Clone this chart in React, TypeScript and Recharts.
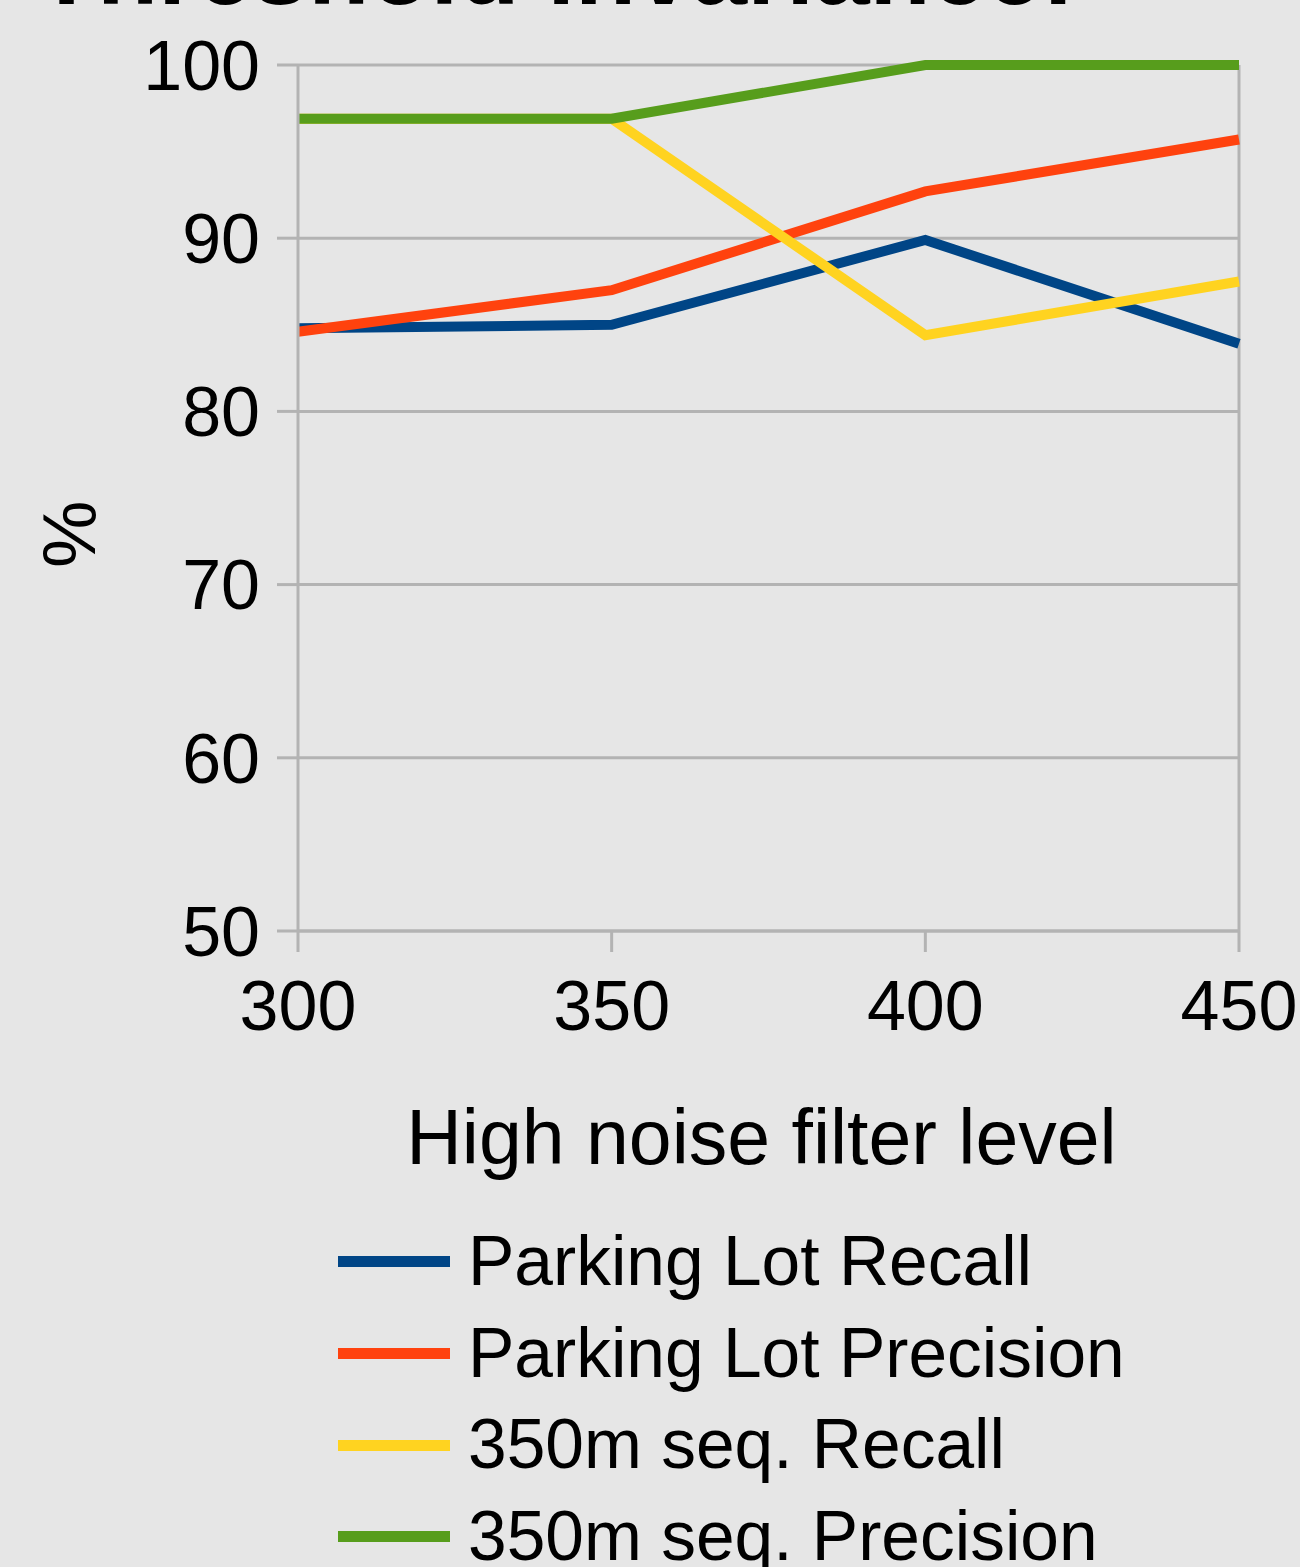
import React from 'react';
import { LineChart, Line, XAxis, YAxis, CartesianGrid, ReferenceLine, Legend } from 'recharts';

const filterLevels = [300, 350, 400, 450];
const parkingLotRecall = [84.8, 85.0, 89.9, 83.9];
const parkingLotPrecision = [84.6, 87.0, 92.7, 95.7];
const seqRecall = [96.9, 96.9, 84.4, 87.5];
const seqPrecision = [96.9, 96.9, 100, 100];
const yTicks = [50, 60, 70, 80, 90, 100];

const seriesNames = ['Parking Lot Recall', 'Parking Lot Precision', '350m seq. Recall', '350m seq. Precision'];
const seriesColors = ['#004586', '#ff420e', '#ffd320', '#579d1c'];
const seriesValues = [parkingLotRecall, parkingLotPrecision, seqRecall, seqPrecision];

const data = filterLevels.map((x, i) => {
  const row: Record<string, number> = { level: x };
  seriesNames.forEach((n, s) => {
    row[n] = seriesValues[s][i];
  });
  return row;
});

const FONT = '"Liberation Sans", Arial, sans-serif';
const GRID = '#b3b3b3';

const LegendContent = (props: any) => {
  const payload = [...(props.payload || [])].sort(
    (a: any, b: any) => seriesNames.indexOf(a.value) - seriesNames.indexOf(b.value)
  );
  return (
    <div style={{ fontFamily: FONT }}>
      {payload.map((p: any) => (
        <div key={p.value} style={{ display: 'flex', alignItems: 'center', height: 91.7 }}>
          <div style={{ width: 112, height: 11, background: p.color, marginRight: 18 }} />
          <span style={{ fontSize: 69.5, color: '#000', lineHeight: '91.7px', whiteSpace: 'nowrap' }}>{p.value}</span>
        </div>
      ))}
    </div>
  );
};

export default function App() {
  return (
    <div style={{ position: 'absolute', left: 0, top: 0, width: 1300, height: 1567, background: '#e6e6e6', overflow: 'hidden', fontFamily: FONT }}>
      <div style={{ position: 'absolute', left: 36, top: 11 - 100 * 0.905 - 2, fontSize: 100, fontWeight: 'bold', lineHeight: 1, whiteSpace: 'nowrap', color: '#000' }}>
        Threshold invariance!
      </div>
      <LineChart width={1300} height={1567} data={data} margin={{ top: 65, right: 61, bottom: 336, left: 0 }}>
        <CartesianGrid vertical={false} stroke={GRID} strokeWidth={3} />
        <XAxis
          dataKey="level"
          type="number"
          domain={[300, 450]}
          ticks={filterLevels}
          stroke={GRID}
          strokeWidth={3}
          tickSize={21}
          tickMargin={28}
          tick={{ fill: '#000', fontSize: 70, fontFamily: FONT }}
          interval={0}
          height={300}
          label={{ value: 'High noise filter level', position: 'insideTop', offset: 0, dx: -7, dy: 178, fill: '#000', fontSize: 77, fontFamily: FONT }}
        />
        <YAxis
          domain={[50, 100]}
          ticks={yTicks}
          width={298}
          stroke={GRID}
          strokeWidth={3}
          tickSize={21}
          tickMargin={17}
          tick={{ fill: '#000', fontSize: 70, fontFamily: FONT }}
          interval={0}
          label={{ value: '%', angle: -90, position: 'insideLeft', dx: 63, dy: 70, fill: '#000', fontSize: 76, fontFamily: FONT }}
        />
        <ReferenceLine x={450} stroke={GRID} strokeWidth={3} />
        {seriesNames.map((n, i) => (
          <Line
            key={n}
            dataKey={n}
            name={n}
            stroke={seriesColors[i]}
            strokeWidth={10}
            dot={false}
            activeDot={false}
            isAnimationActive={false}
            type="linear"
          />
        ))}
        <Legend
          layout="vertical"
          verticalAlign="middle"
          align="center"
          content={<LegendContent />}
          wrapperStyle={{ left: 338, top: 1216, width: 900, height: 370 }}
        />
      </LineChart>
    </div>
  );
}
